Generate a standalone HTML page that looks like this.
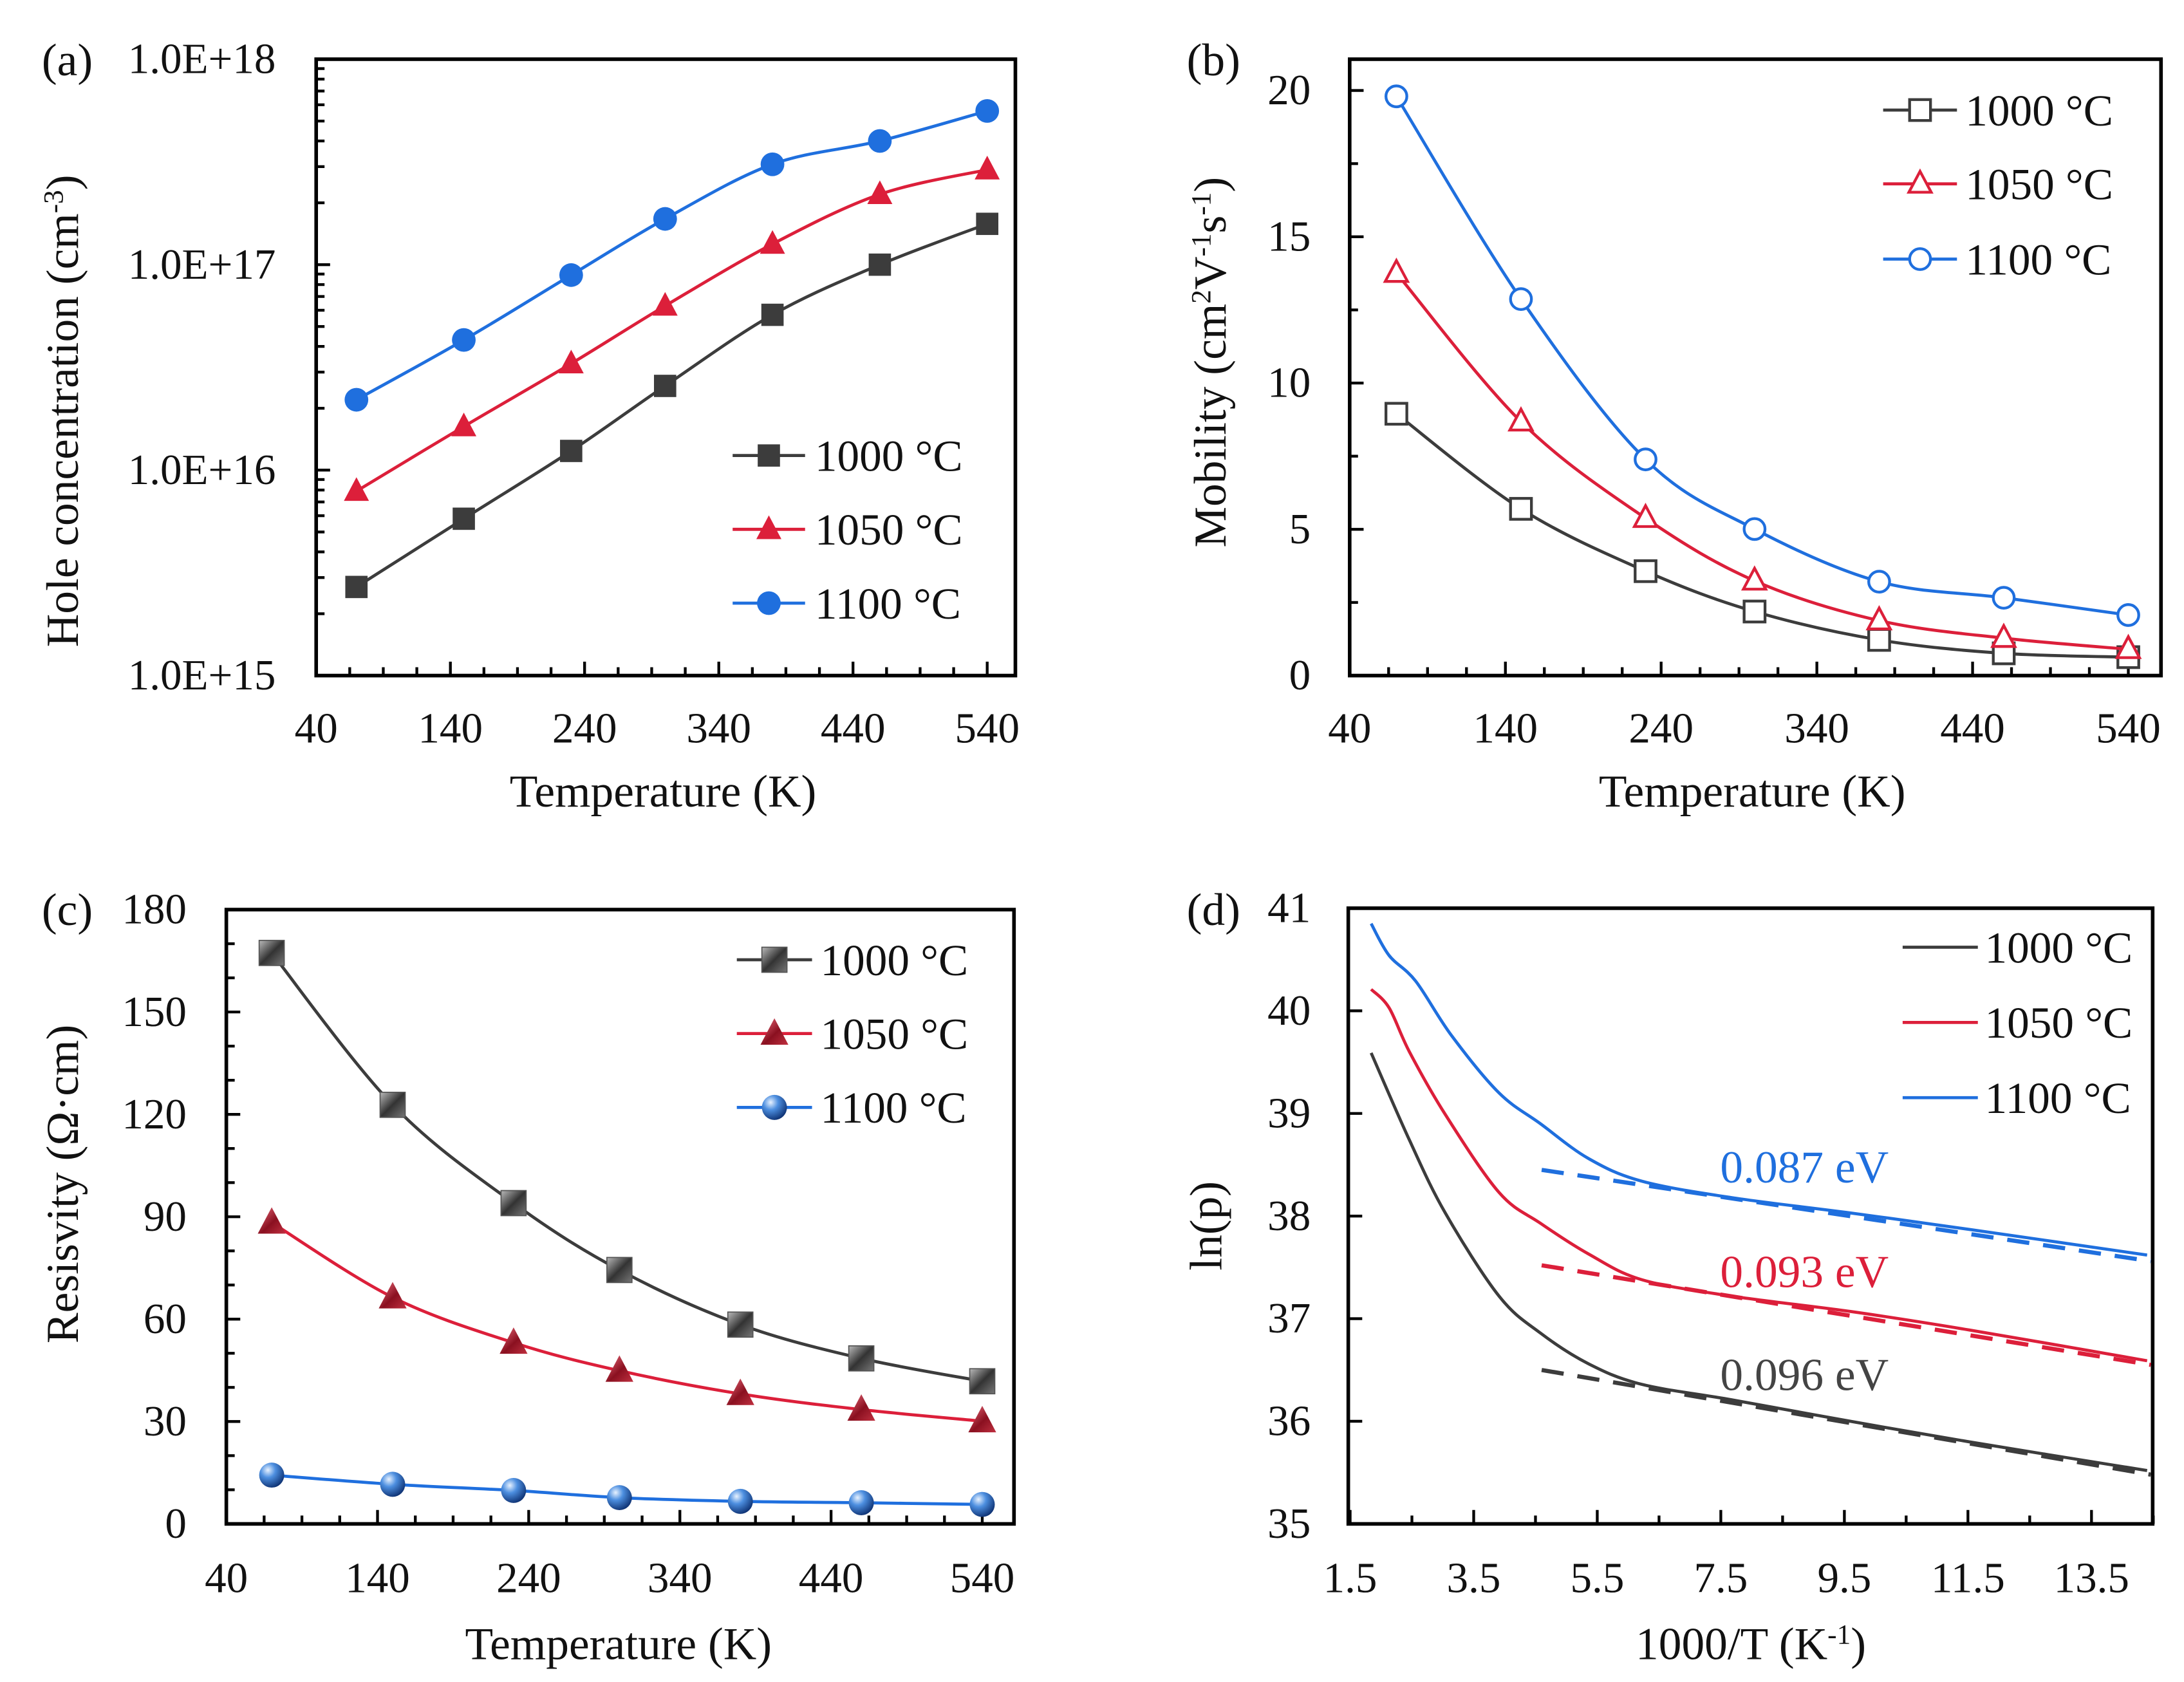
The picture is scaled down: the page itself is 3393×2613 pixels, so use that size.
<!DOCTYPE html>
<html><head><meta charset="utf-8"><style>html,body{margin:0;padding:0;background:#fff}svg{display:block}text{font-family:"Liberation Serif",serif;fill:#111}</style></head>
<body>
<svg id="fig" xmlns="http://www.w3.org/2000/svg" width="3393" height="2613" viewBox="0 0 1568 1207.5" preserveAspectRatio="none">
<defs>
<linearGradient id="gSq" x1="0" y1="0" x2="1" y2="1"><stop offset="0" stop-color="#bbb"/><stop offset="0.5" stop-color="#333"/><stop offset="1" stop-color="#777"/></linearGradient>
<linearGradient id="gTri" x1="0" y1="0" x2="1" y2="1"><stop offset="0" stop-color="#f07080"/><stop offset="0.55" stop-color="#8a1020"/><stop offset="1" stop-color="#c03040"/></linearGradient>
<radialGradient id="gSph" cx="0.35" cy="0.3" r="0.75"><stop offset="0" stop-color="#e8f2ff"/><stop offset="0.4" stop-color="#4d8fe0"/><stop offset="1" stop-color="#0c2f70"/></radialGradient>
</defs>
</svg>
<script>
// ---- data ----
const temps = [70,150,230,300,380,460,540];
const holeC1000 = [2.7e15,5.8e15,1.24e16,2.57e16,5.7e16,1.0e17,1.58e17];
const holeC1050 = [7.9e15,1.63e16,3.3e16,6.3e16,1.26e17,2.2e17,2.9e17];
const holeC1100 = [2.2e16,4.3e16,8.9e16,1.67e17,3.08e17,4.0e17,5.6e17];
const mob1000 = [8.95,5.7,3.57,2.19,1.22,0.76,0.63];
const mob1050 = [13.76,8.68,5.38,3.24,1.88,1.28,0.9];
const mob1100 = [19.8,12.87,7.39,5.01,3.21,2.66,2.07];
const res1000 = [167.3,122.8,94.0,74.4,58.4,48.5,41.8];
const res1050 = [88.3,66.4,53.1,44.9,38.1,33.5,30.1];
const res1100 = [14.3,11.6,9.8,7.7,6.6,6.2,5.7];
const invT1000 = [1.84,2.46,3.04,3.91,4.58,5.36,6.22,7.67,9.6,11.52,14.4];
const lnP1000 = [39.59,38.74,38.03,37.22,36.86,36.56,36.36,36.21,36.0,35.8,35.52];
const invT1050 = [1.84,2.13,2.46,3.04,3.91,4.58,5.36,6.22,7.67,9.6,11.52,14.4];
const lnP1050 = [40.21,40.03,39.6,38.99,38.23,37.93,37.63,37.38,37.22,37.07,36.89,36.59];
const invT1100 = [1.84,2.13,2.56,3.14,3.91,4.58,5.36,6.22,7.67,9.6,11.52,14.4];
const lnP1100 = [40.85,40.54,40.29,39.76,39.2,38.9,38.56,38.34,38.18,38.03,37.87,37.62];
const fitX = [4.6,14.46];
const fit1000 = [36.5,35.48];
const fit1050 = [37.52,36.55];
const fit1100 = [38.45,37.56];
const tempTicks = [40,140,240,340,440,540];
const logTicks = ["1.0E+15","1.0E+16","1.0E+17","1.0E+18"];
const mobTicks = [0,5,10,15,20];
const resTicks = [0,30,60,90,120,150,180];
const lnTicks = [35,36,37,38,39,40,41];
const invTicks = [1.5,3.5,5.5,7.5,9.5,11.5,13.5];
const seriesNames = ["1000 °C","1050 °C","1100 °C"];
const colors = ["#3c3c3c","#dc1f3a","#1f6fde"];

const FT=31, FA=33, FL=32;
const NS="http://www.w3.org/2000/svg";
const svg=document.getElementById('fig');
function mk(tag,attrs,parent){const e=document.createElementNS(NS,tag);for(const k in attrs)e.setAttribute(k,attrs[k]);(parent||svg).appendChild(e);return e;}
function axis(c){return{x:v=>c.px0+(v-c.xmin)/(c.xmax-c.xmin)*(c.px1-c.px0),
 y:v=>{const t=c.log?Math.log10(v):v;return c.py1-(t-c.ymin)/(c.ymax-c.ymin)*(c.py1-c.py0);}};}
function spline(pts){let d=`M${pts[0][0]},${pts[0][1]}`;for(let i=0;i<pts.length-1;i++){const p0=pts[Math.max(0,i-1)],p1=pts[i],p2=pts[i+1],p3=pts[Math.min(pts.length-1,i+2)];
 const c1=[p1[0]+(p2[0]-p0[0])/6,p1[1]+(p2[1]-p0[1])/6],c2=[p2[0]-(p3[0]-p1[0])/6,p2[1]-(p3[1]-p1[1])/6];d+=` C${c1[0]},${c1[1]} ${c2[0]},${c2[1]} ${p2[0]},${p2[1]}`;}return d;}
function marker(g,type,x,y,col){let e;
 if(type==='sq'){e=mk('rect',{x:x-8,y:y-8,width:16,height:16,fill:col},g);}
 else if(type==='tri'){e=mk('polygon',{points:`${x},${y-10} ${x-9},${y+7} ${x+9},${y+7}`,fill:col},g);}
 else if(type==='cir'){e=mk('circle',{cx:x,cy:y,r:8.5,fill:col},g);}
 else if(type==='osq'){e=mk('rect',{x:x-7.5,y:y-7.5,width:15,height:15,fill:'#fff',stroke:col,'stroke-width':2},g);}
 else if(type==='otri'){e=mk('polygon',{points:`${x},${y-9} ${x-8},${y+6} ${x+8},${y+6}`,fill:'#fff',stroke:col,'stroke-width':2},g);}
 else if(type==='ocir'){e=mk('circle',{cx:x,cy:y,r:7.5,fill:'#fff',stroke:col,'stroke-width':2},g);}
 else if(type==='gsq'){e=mk('rect',{x:x-9,y:y-9,width:18,height:18,fill:'url(#gSq)',stroke:'#555','stroke-width':0.8},g);}
 else if(type==='gtri'){e=mk('polygon',{points:`${x},${y-11} ${x-10},${y+8} ${x+10},${y+8}`,fill:'url(#gTri)'},g);}
 else {e=mk('circle',{cx:x,cy:y,r:9,fill:'url(#gSph)'},g);}
 
 
 return e;}
function frame(c,name){const g=mk('g',{});
 
 
 const r=mk('rect',{x:c.px0,y:c.py0,width:c.px1-c.px0,height:c.py1-c.py0,fill:'none',stroke:'#000','stroke-width':2.6},g);
 
 
 return g;}
function txt(g,s,x,y,attrs,name){const t=mk('text',Object.assign({x:x,y:y,'font-size':FT},attrs||{}),g);t.textContent=s;
 
 
 return t;}
function tick(g,x1,y1,x2,y2){mk('line',{x1:x1,y1:y1,x2:x2,y2:y2,stroke:'#000','stroke-width':2},g);}
function tempXAxis(g,c,A,base){for(let v=40;v<=c.xmax;v+=25){const x=A.x(v);tick(g,x,c.py1,x,c.py1-((v-40)%100===0?10:6));}
 tempTicks.forEach(v=>txt(g,String(v),A.x(v),base,{'text-anchor':'middle'},'x-tick-label'));}
function legend(g,items,lx0,lx1,tx,ys,types){items.forEach((s,i)=>{mk('line',{x1:lx0,y1:ys[i],x2:lx1,y2:ys[i],stroke:colors[i],'stroke-width':2.2},g);
 if(types)marker(g,types[i],(lx0+lx1)/2,ys[i],colors[i]);
 txt(g,s,tx,ys[i]+11,{'font-size':FL},'legend-entry');});}

// ---- panel a ----
(function(){const c={px0:227,px1:729,py0:42.5,py1:485,xmin:40,xmax:561,ymin:15,ymax:18,log:true};const A=axis(c);const g=frame(c,'panel-a-hole-concentration');
 tempXAxis(g,c,A,533);
 for(let d=15;d<18;d++)for(let m=1;m<=9;m++){const y=A.y(m*Math.pow(10,d));tick(g,c.px0,y,c.px0+(m===1?10:6),y);}
 logTicks.forEach((s,i)=>txt(g,s,198,A.y(Math.pow(10,15+i))+10,{'text-anchor':'end'},'y-tick-label'));
 txt(g,"(a)",30,54,{'font-size':FA},'panel-label');
 const yt=txt(g,"",0,0,{transform:"translate(56,295) rotate(-90)",'text-anchor':'middle','font-size':FA},'y-axis-title');yt.innerHTML='Hole concentration (cm<tspan dy="-11" font-size="20">-3</tspan><tspan dy="11">)</tspan>';
 txt(g,"Temperature (K)",476,579,{'text-anchor':'middle','font-size':FA},'x-axis-title');
 const types=['sq','tri','cir'];
 [holeC1000,holeC1050,holeC1100].forEach((s,i)=>{const pts=s.map((v,j)=>[A.x(temps[j]),A.y(v)]);const p=mk('path',{d:spline(pts),fill:'none',stroke:colors[i],'stroke-width':2.2},g);
  
  
  pts.forEach(q=>marker(g,types[i],q[0],q[1],colors[i]));});
 legend(g,seriesNames,526,578,585,[327,380,433],types);
})();

// ---- panel b ----
(function(){const c={px0:969,px1:1551.5,py0:42.5,py1:485,xmin:40,xmax:561,ymin:0,ymax:21.07};const A=axis(c);const g=frame(c,'panel-b-mobility');
 tempXAxis(g,c,A,533);
 for(let v=0;v<=20;v+=2.5){const y=A.y(v);tick(g,c.px0,y,c.px0+(v%5===0?10:6),y);}
 mobTicks.forEach(v=>txt(g,String(v),941,A.y(v)+10,{'text-anchor':'end'},'y-tick-label'));
 txt(g,"(b)",852,54,{'font-size':FA},'panel-label');
 const yt=txt(g,"",0,0,{transform:"translate(880,260) rotate(-90)",'text-anchor':'middle','font-size':FA},'y-axis-title');yt.innerHTML='Mobility (cm<tspan dy="-11" font-size="20">2</tspan><tspan dy="11">V</tspan><tspan dy="-11" font-size="20">-1</tspan><tspan dy="11">s</tspan><tspan dy="-11" font-size="20">-1</tspan><tspan dy="11">)</tspan>';
 txt(g,"Temperature (K)",1258,579,{'text-anchor':'middle','font-size':FA},'x-axis-title');
 const types=['osq','otri','ocir'];
 [mob1000,mob1050,mob1100].forEach((s,i)=>{const pts=s.map((v,j)=>[A.x(temps[j]),A.y(v)]);const p=mk('path',{d:spline(pts),fill:'none',stroke:colors[i],'stroke-width':2.2},g);
  
  
  pts.forEach(q=>marker(g,types[i],q[0],q[1],colors[i]));});
 legend(g,seriesNames,1352,1405,1411,[79,132,186],types);
})();

// ---- panel c ----
(function(){const c={px0:162.5,px1:728,py0:653,py1:1094,xmin:40,xmax:561,ymin:0,ymax:180};const A=axis(c);const g=frame(c,'panel-c-resistivity');
 tempXAxis(g,c,A,1143);
 for(let v=0;v<=180;v+=10){const y=A.y(v);tick(g,c.px0,y,c.px0+(v%30===0?10:6),y);}
 resTicks.forEach(v=>txt(g,String(v),134,A.y(v)+10,{'text-anchor':'end'},'y-tick-label'));
 txt(g,"(c)",30,664,{'font-size':FA},'panel-label');
 txt(g,"Resisvity (Ω·cm)",0,0,{transform:"translate(56,850) rotate(-90)",'text-anchor':'middle','font-size':FA},'y-axis-title');
 txt(g,"Temperature (K)",444,1191,{'text-anchor':'middle','font-size':FA},'x-axis-title');
 const types=['gsq','gtri','gsph'];
 [res1000,res1050,res1100].forEach((s,i)=>{const pts=s.map((v,j)=>[A.x(temps[j]),A.y(v)]);const p=mk('path',{d:spline(pts),fill:'none',stroke:colors[i],'stroke-width':2.2},g);
  
  
  pts.forEach(q=>marker(g,types[i],q[0],q[1],colors[i]));});
 legend(g,seriesNames,529,583,589,[689,742,795],types);
})();

// ---- panel d ----
(function(){const c={px0:968,px1:1545.5,py0:652,py1:1094,xmin:1.47,xmax:14.49,ymin:35,ymax:41};const A=axis(c);const g=frame(c,'panel-d-ln-p');
 for(let v=1.5;v<=14.5;v+=1){const x=A.x(v);tick(g,x,c.py1,x,c.py1-((v-1.5)%2===0?10:6));}
 invTicks.forEach(v=>txt(g,v.toFixed(1),A.x(v),1143,{'text-anchor':'middle'},'x-tick-label'));
 lnTicks.forEach(v=>{const y=A.y(v);tick(g,c.px0,y,c.px0+10,y);txt(g,String(v),941,y+10,{'text-anchor':'end'},'y-tick-label');});
 txt(g,"(d)",852,664,{'font-size':FA},'panel-label');
 txt(g,"ln(p)",0,0,{transform:"translate(877,880) rotate(-90)",'text-anchor':'middle','font-size':FA},'y-axis-title');
 const xt=txt(g,"",1257,1191,{'text-anchor':'middle','font-size':FA},'x-axis-title');xt.innerHTML='1000/T (K<tspan dy="-11" font-size="20">-1</tspan><tspan dy="11">)</tspan>';
 const xs=[invT1000,invT1050,invT1100],ys=[lnP1000,lnP1050,lnP1100],fits=[fit1000,fit1050,fit1100];
 xs.forEach((xa,i)=>{const pts=xa.map((v,j)=>[A.x(v),A.y(ys[i][j])]);const p=mk('path',{d:spline(pts),fill:'none',stroke:colors[i],'stroke-width':2.2},g);
  
  
  const f=mk('line',{x1:A.x(fitX[0]),y1:A.y(fits[i][0]),x2:A.x(fitX[1]),y2:A.y(fits[i][1]),stroke:colors[i],'stroke-width':3,'stroke-dasharray':'16,10'},g);
  
  });
 txt(g,"0.087 eV",1235,849,{'font-size':33,style:'fill:'+colors[2]},'activation-energy-label');
 txt(g,"0.093 eV",1235,924,{'font-size':33,style:'fill:'+colors[1]},'activation-energy-label');
 txt(g,"0.096 eV",1235,998,{'font-size':33,style:'fill:#444'},'activation-energy-label');
 legend(g,seriesNames,1366,1420,1425,[680,734,788],null);
})();
</script>
</body></html>
